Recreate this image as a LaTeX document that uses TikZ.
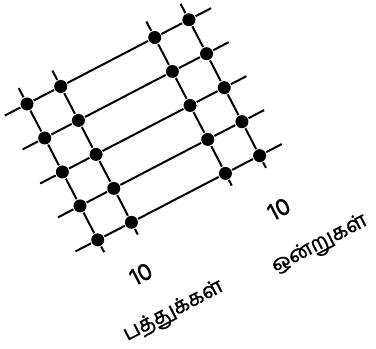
\documentclass[tikz,border=0pt]{standalone}
\usepackage{fontspec}
\newfontfamily\tamilfont[Script=Tamil,FakeBold=1.2]{Hind Madurai}
\usepackage{tikz}

\begin{document}
\begin{tikzpicture}[x=1pt,y=1pt,line width=2pt,
  dot/.style={circle,fill,inner sep=0pt,minimum size=13pt},
  lbl/.style={font=\tamilfont\fontsize{21}{24}\selectfont,rotate=27.5,inner sep=0pt},
  num/.style={lbl,font=\tamilfont\fontsize{25}{28}\selectfont}]
  \useasboundingbox (0,0) rectangle (376,349);
  \begin{scope}[shift={(27,245)},rotate=27.5]
    % dots: columns along the long lines, rows down the steep lines
    \foreach \c/\x in {1/0,2/38,3/144,4/182.5}
      \foreach \r in {1,...,5}
        \node[dot] (d-\c-\r) at (\x,{-38.3*(\r-1)}) {};
    % free ends of the lines
    \foreach \r in {1,...,5} {
      \coordinate (l-\r) at (-25,{-38.3*(\r-1)});
      \coordinate (r-\r) at (207.5,{-38.3*(\r-1)});
    }
    \foreach \c/\x in {1/0,2/38,3/144,4/182.5} {
      \coordinate (t-\c) at (\x,18);
      \coordinate (b-\c) at (\x,-167);
    }
    \foreach \r in {1,...,5}
      \draw (l-\r) -- (d-1-\r) -- (d-2-\r) -- (d-3-\r) -- (d-4-\r) -- (r-\r);
    \foreach \c in {1,...,4}
      \draw (t-\c) -- (d-\c-1) -- (d-\c-2) -- (d-\c-3) -- (d-\c-4) -- (d-\c-5) -- (b-\c);
  \end{scope}
  \node[num] (tn) at (141,75) {10};
  \node[lbl] (tw) at (174,37) {பத்துக்கள்};
  \node[num] (on) at (279,140) {10};
  \node[lbl] (ow) at (320,104) {ஒன்றுகள்};
\end{tikzpicture}
\end{document}
